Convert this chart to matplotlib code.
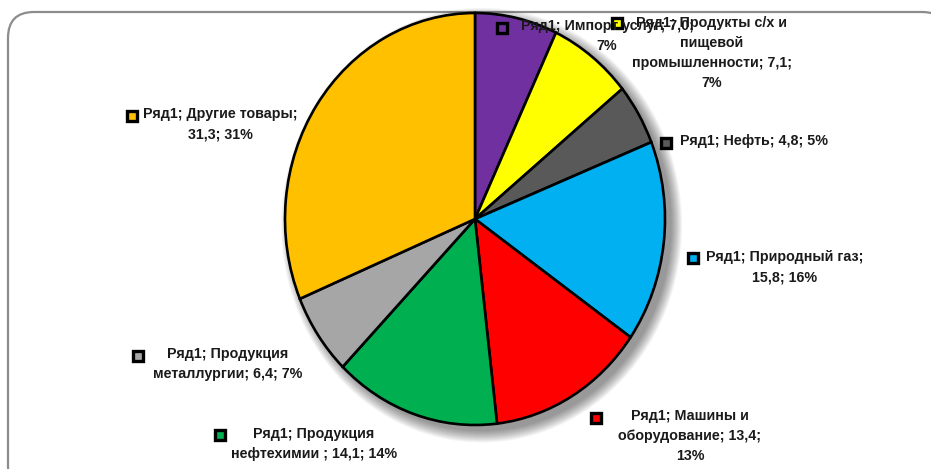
import matplotlib
matplotlib.use("Agg")
import matplotlib.pyplot as plt
from matplotlib.patches import FancyBboxPatch, Ellipse

# ---- data ----
categories = ["Импорт услуг", "Продукты с/х и пищевой промышленности", "Нефть",
              "Природный газ", "Машины и оборудование", "Продукция нефтехимии",
              "Продукция металлургии", "Другие товары"]
values = [7.0, 7.1, 4.8, 15.8, 13.4, 14.1, 6.4, 31.3]
percents = [7, 7, 5, 16, 13, 14, 7, 31]
colors = ["#7030A0", "#FFFF00", "#595959", "#00B0F0", "#FF0000", "#00B050", "#A6A6A6", "#FFC000"]
series_name = "Ряд1"

def fmt(v):
    return f"{v:.1f}".replace(".", ",")

label_texts = [
    f"{series_name}; Импорт услуг; {fmt(values[0])};\n{percents[0]}%",
    f"{series_name}; Продукты с/х и\nпищевой\nпромышленности; {fmt(values[1])};\n{percents[1]}%",
    f"{series_name}; Нефть; {fmt(values[2])}; {percents[2]}%",
    f"{series_name}; Природный газ;\n{fmt(values[3])}; {percents[3]}%",
    f"{series_name}; Машины и\nоборудование; {fmt(values[4])};\n{percents[4]}%",
    f"{series_name}; Продукция\nнефтехимии ; {fmt(values[5])}; {percents[5]}%",
    f"{series_name}; Продукция\nметаллургии; {fmt(values[6])}; {percents[6]}%",
    f"{series_name}; Другие товары;\n{fmt(values[7])}; {percents[7]}%",
]

# ---- layout (pixels) ----
W, H = 931, 469
text_pos = [(607, 28), (712, 25), (754, 143), (785, 259), (690, 418), (314, 436), (228, 356), (220, 116)]
marker_pos = [(502, 28), (617, 23), (666, 143), (693, 258), (596, 418), (220, 435), (138, 356), (132, 116)]
cx, cy, rx, ry = 475, 219, 190, 206

fig = plt.figure(figsize=(W / 100, H / 100), dpi=100)

bg = fig.add_axes([0, 0, 1, 1])
bg.set_xlim(0, W); bg.set_ylim(H, 0); bg.axis("off")
frame = FancyBboxPatch((8, 12), 940, 480, boxstyle="round,pad=0,rounding_size=26",
                       fc="white", ec="#8c8c8c", lw=1.6)
bg.add_patch(frame)

pax = fig.add_axes([(cx - rx) / W, 1 - (cy + ry) / H, 2 * rx / W, 2 * ry / H])
pax.axis("off")
# soft shadow
for i in range(12):
    s = 1.0 + 0.005 * i
    pax.add_patch(Ellipse((0.035, -0.03), 2 * s, 2 * s, fc="black", ec="none",
                          alpha=0.04, zorder=0, clip_on=False))
wedges, _ = pax.pie(values, colors=colors, startangle=90, counterclock=False,
                    wedgeprops=dict(edgecolor="black", linewidth=1.9))
for w in wedges:
    w.set_zorder(2)
    w.set_clip_on(False)
pax.set_aspect("auto")
pax.set_xlim(-1.0, 1.0); pax.set_ylim(-1.0, 1.0)

lax = fig.add_axes([0, 0, 1, 1])
lax.set_xlim(0, W); lax.set_ylim(H, 0); lax.axis("off")
lax.patch.set_alpha(0)
for txt, (tx, ty), (mx, my), c in zip(label_texts, text_pos, marker_pos, colors):
    lax.text(tx, ty - 9, txt, ha="center", va="top", multialignment="center",
             fontsize=10.3, fontweight="bold", family=["Liberation Sans", "DejaVu Sans"],
             color="#1a1a1a", linespacing=1.55)
    lax.plot([mx], [my], marker="s", markersize=6.8, markerfacecolor=c,
             markeredgecolor="black", markeredgewidth=2.4, linestyle="none")

fig.savefig("out.png", dpi=100)
